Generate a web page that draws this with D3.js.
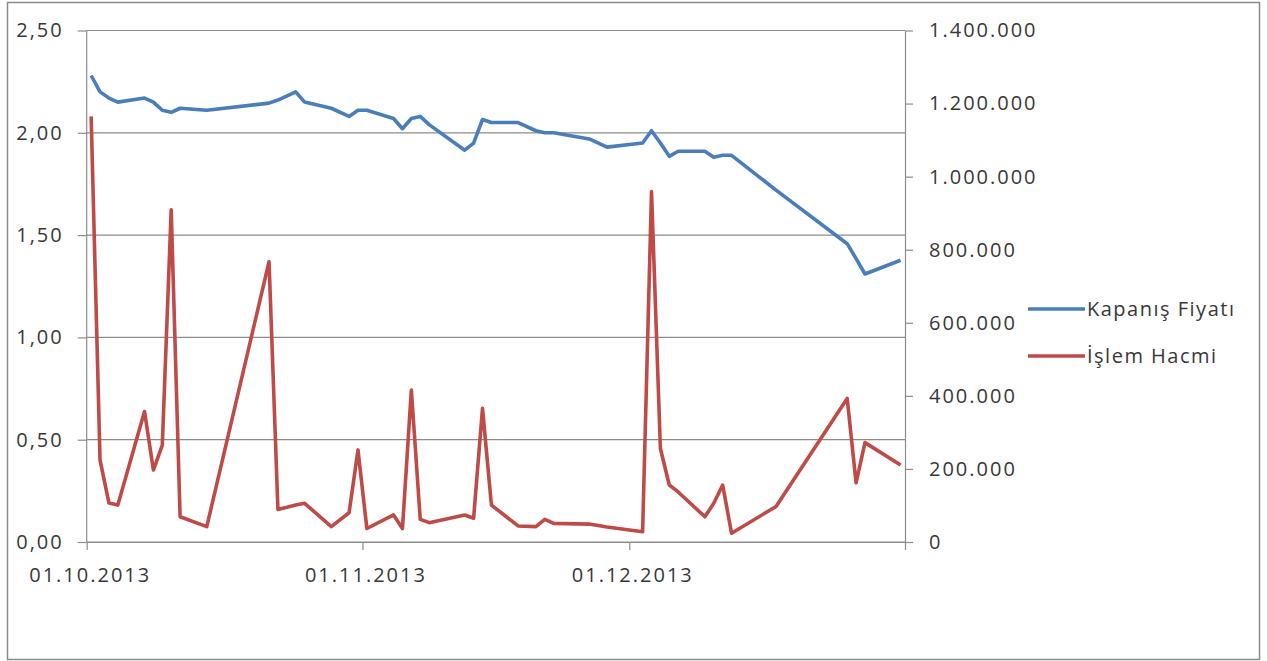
<!DOCTYPE html>
<html>
<head>
<meta charset="utf-8">
<script src="https://cdn.jsdelivr.net/npm/d3@7"></script>
<style>
  body { margin: 0; background: #fff; }
  svg text { font-family: "Open Sans", sans-serif; fill: #383838; }
</style>
</head>
<body>
<div id="wrapper"></div>
<script>
// trading days, closing price and volume
const dates = [
  "2013-10-01","2013-10-02","2013-10-03","2013-10-04","2013-10-07","2013-10-08","2013-10-09",
  "2013-10-10","2013-10-11","2013-10-14","2013-10-21","2013-10-22","2013-10-24","2013-10-25",
  "2013-10-28","2013-10-30","2013-10-31","2013-11-01","2013-11-04","2013-11-05","2013-11-06",
  "2013-11-07","2013-11-08","2013-11-12","2013-11-13","2013-11-14","2013-11-15","2013-11-18",
  "2013-11-20","2013-11-21","2013-11-22","2013-11-26","2013-11-28","2013-12-02","2013-12-03",
  "2013-12-04","2013-12-05","2013-12-06","2013-12-09","2013-12-10","2013-12-11","2013-12-12",
  "2013-12-17","2013-12-25","2013-12-26","2013-12-27","2013-12-31"
];
const kapanisFiyati = [
  2.28, 2.20, 2.17, 2.15, 2.17, 2.15, 2.11,
  2.10, 2.12, 2.11, 2.145, 2.16, 2.20, 2.15,
  2.12, 2.08, 2.11, 2.11, 2.07, 2.02, 2.07,
  2.08, 2.04, 1.915, 1.95, 2.065, 2.05, 2.05,
  2.01, 2.00, 2.00, 1.97, 1.93, 1.95, 2.01,
  1.95, 1.885, 1.91, 1.91, 1.88, 1.89, 1.89,
  1.72, 1.458, 1.385, 1.31, 1.377
];
const islemHacmi = [
  1165000, 224000, 107000, 101000, 357000, 197000, 265000,
  909000, 69000, 42000, 767000, 89000, 101000, 106000,
  42000, 80000, 252000, 37000, 74000, 37000, 416000,
  62000, 53000, 74000, 65000, 366000, 101000, 44000,
  42000, 62000, 51000, 49000, 41000, 28000, 959000,
  256000, 156000, 137000, 69000, 106000, 156000, 24000,
  97000, 393000, 162000, 272000, 211000
];
const seriesNames = ["Kapanış Fiyatı", "İşlem Hacmi"];
const leftTicks = [0, 0.5, 1, 1.5, 2, 2.5];
const rightTicks = [0, 200000, 400000, 600000, 800000, 1000000, 1200000, 1400000];

function buildPlot() {
    const dateParser = d3.timeParse("%Y-%m-%d");
    const data = dates.map((d, i) => ({
        date: dateParser(d),
        close: kapanisFiyati[i],
        volume: islemHacmi[i]
    }));

    // each day is a slot between month ticks, the point sits in the middle of it
    const xAccessor = (d) => d3.timeHour.offset(d.date, 12);
    const yAccessor = (d) => d.close;
    const yAccessor_2 = (d) => d.volume;

    const tr = d3.formatLocale({decimal: ",", thousands: ".", grouping: [3], currency: ["", ""]});

    var dimension = {
        width: 1267,
        height: 661,
        margin: {
            top: 30.5,
            left: 86.7,
            bottom: 119,
            right: 362
        }
    };
    dimension.boundedWidth = dimension.width - dimension.margin.left - dimension.margin.right;
    dimension.boundedHeight = dimension.height - dimension.margin.top - dimension.margin.bottom;

    const svg = d3.select("#wrapper").append("svg")
        .attr("width", dimension.width)
        .attr("height", dimension.height);

    // outer frame
    svg.append("rect")
        .attr("x", 7.5).attr("y", 2.5)
        .attr("width", 1252).attr("height", 657)
        .attr("fill", "none")
        .attr("stroke", "#8a8a8a")
        .attr("stroke-width", 1.5);

    const bounded = svg.append("g")
        .attr("transform", `translate(${dimension.margin.left}, ${dimension.margin.top})`);

    const xScaler = d3.scaleTime()
        .domain([dateParser("2013-10-01"), dateParser("2014-01-01")])
        .range([0, dimension.boundedWidth]);
    const yScaler = d3.scaleLinear()
        .domain([0, 2.5])
        .range([dimension.boundedHeight, 0]);
    const yScaler_2 = d3.scaleLinear()
        .domain([0, 1400000])
        .range([dimension.boundedHeight, 0]);

    // gridlines
    bounded.append("g")
        .selectAll("line")
        .data(leftTicks)
        .join("line")
        .attr("x1", 0).attr("x2", dimension.boundedWidth)
        .attr("y1", d => yScaler(d)).attr("y2", d => yScaler(d))
        .attr("stroke", "#8c8c8c")
        .attr("stroke-width", 1.2);

    const styleAxis = (g) => {
        g.selectAll("path, line").attr("stroke", "#8c8c8c").attr("stroke-width", 1.2);
        g.selectAll("text")
            .attr("fill", "#383838")
            .style("font-size", "20px")
            .style("letter-spacing", "2px");
    };

    const yAxis = d3.axisLeft(yScaler)
        .tickValues(leftTicks)
        .tickSizeInner(9).tickSizeOuter(0).tickPadding(14)
        .tickFormat(tr.format(",.2f"));
    bounded.append("g").call(yAxis).call(styleAxis)
        .call(g => g.select(".domain").remove());

    const yAxis_2 = d3.axisRight(yScaler_2)
        .tickValues(rightTicks)
        .tickSizeInner(8).tickSizeOuter(0).tickPadding(16)
        .tickFormat(tr.format(",d"));
    bounded.append("g")
        .attr("transform", `translate(${dimension.boundedWidth}, 0)`)
        .call(yAxis_2).call(styleAxis);

    const xAxis = d3.axisBottom(xScaler)
        .ticks(d3.timeMonth.every(1))
        .tickSizeInner(8).tickSizeOuter(0).tickPadding(18)
        .tickFormat(d => d.getFullYear() === 2014 ? "" : d3.timeFormat("%d.%m.%Y")(d));
    bounded.append("g")
        .attr("transform", `translate(0, ${dimension.boundedHeight})`)
        .call(xAxis).call(styleAxis)
        .call(g => g.selectAll(".tick text").attr("dx", "3px"));

    // left axis line
    bounded.append("line")
        .attr("x1", 0).attr("x2", 0)
        .attr("y1", 0).attr("y2", dimension.boundedHeight)
        .attr("stroke", "#8c8c8c").attr("stroke-width", 1.2);

    const colors = ["#4a7ebb", "#be4b48"];

    const closeLine = d3.line()
        .x(d => xScaler(xAccessor(d)))
        .y(d => yScaler(yAccessor(d)));
    const volumeLine = d3.line()
        .x(d => xScaler(xAccessor(d)))
        .y(d => yScaler_2(yAccessor_2(d)));

    bounded.append("path")
        .attr("d", volumeLine(data))
        .attr("fill", "none")
        .attr("stroke", colors[1])
        .attr("stroke-width", 3.6)
        .attr("stroke-linejoin", "round");

    bounded.append("path")
        .attr("d", closeLine(data))
        .attr("fill", "none")
        .attr("stroke", colors[0])
        .attr("stroke-width", 3.6)
        .attr("stroke-linejoin", "round");

    // legend
    const legend = svg.append("g").attr("transform", "translate(1028, 309)");
    seriesNames.forEach((name, i) => {
        const row = legend.append("g").attr("transform", `translate(0, ${i * 47})`);
        row.append("line")
            .attr("x1", 0).attr("x2", 57)
            .attr("stroke", colors[i])
            .attr("stroke-width", 3.6);
        row.append("text")
            .attr("x", 59)
            .attr("dy", "0.35em")
            .style("font-size", "20px")
            .style("letter-spacing", "1.5px")
            .text(name);
    });
}

buildPlot();
</script>
</body>
</html>
